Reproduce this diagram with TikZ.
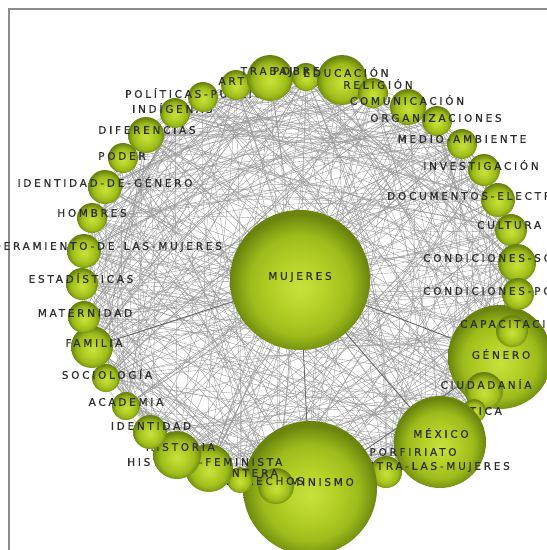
\documentclass[tikz,border=0pt]{standalone}
\usepackage{fontspec}
\newfontfamily\lblfont[LetterSpace=26,FakeBold=0.6]{DejaVu Sans}
\definecolor{sA}{HTML}{C8E23E}
\definecolor{sB}{HTML}{B6D228}
\definecolor{sC}{HTML}{9DBB1B}
\definecolor{sD}{HTML}{7A9612}
\definecolor{sE}{HTML}{6A840E}
\definecolor{txt}{HTML}{2E2E2E}
\definecolor{frame}{HTML}{8C8C8C}
\pgfdeclareradialshading{sphshade}{\pgfpoint{0bp}{-3bp}}{color(0bp)=(sA); color(9bp)=(sB); color(18bp)=(sC); color(23bp)=(sD); color(25bp)=(sE); color(50bp)=(sE)}
\pgfdeclarelayer{paper}
\pgfdeclarelayer{web}
\pgfsetlayers{paper,web,main}
\tikzset{
  sphere/.style={circle, inner sep=0pt, shade, shading=sphshade},
  lbl/.style={font=\lblfont\fontsize{10.5}{12}\selectfont, text=txt, inner sep=0pt},
  edge/.style={black!40, line width=0.35pt},
  strong/.style={black!60, line width=0.8pt}
}
\newcommand\topic[8]{%
  \node[sphere, minimum size={2*#4pt}] (#1) at (#2,#3) {};
  \node[lbl, anchor=#5] (l#1) at (#6,#7) {#8};}
\begin{document}
\begin{tikzpicture}[x=1pt,y=-1pt]
\useasboundingbox (0,0) rectangle (547,550);
\begin{pgfonlayer}{paper}
\fill[white] (0,0) rectangle (547,550);
\end{pgfonlayer}
\clip (0,0) rectangle (547,550);
\draw[frame, line width=1.6pt] (9,552) -- (9,9) -- (549,9);
% central node
\topic{mujeres}{300}{280}{70}{center}{300}{277}{MUJERES}
% ring, drawn clockwise
\topic{t1}{500}{357}{52}{center}{501}{354}{GÉNERO}
\topic{t2}{484}{391}{19}{center}{486}{384}{CIUDADANÍA}
\topic{t3}{474}{411}{12}{east}{502}{410}{ÉTICA}
\node[sphere, minimum size=26pt] (t4) at (424,456) {};
\topic{t5}{440}{442}{46}{center}{441}{433}{MÉXICO}
\node[lbl] (lt4) at (413,452) {PORFIRIATO};
\topic{t6}{386}{472}{16}{east}{510}{467}{VIOLENCIA-CONTRA-LAS-MUJERES}
\topic{t7}{310}{488}{67}{east}{354}{482}{FEMINISMO}
\topic{t8}{276}{486}{18}{east}{304}{481}{DERECHOS}
\topic{t9}{240}{480}{13}{east}{278}{473}{FRONTERA}
\topic{t10}{209}{468}{24}{west}{127}{462}{HISTORIA-FEMINISTA}
\topic{t11}{177}{455}{24}{east}{215}{447}{HISTORIA}
\topic{t12}{150}{432}{17}{center}{151}{426}{IDENTIDAD}
\topic{t13}{126}{406}{14}{center}{126}{402}{ACADEMIA}
\topic{t14}{106}{378}{14}{center}{107}{374}{SOCIOLOGÍA}
\topic{t15}{92}{347}{21}{center}{94}{343}{FAMILIA}
\topic{t16}{84}{317}{16}{center}{85}{313}{MATERNIDAD}
\topic{t17}{82}{284}{16}{center}{81}{278}{ESTADÍSTICAS}
\topic{t18}{84}{251}{17}{east}{222}{247}{EMPODERAMIENTO-DE-LAS-MUJERES}
\topic{t19}{92}{218}{15}{center}{92}{213}{HOMBRES}
\topic{t20}{105}{187}{17}{center}{105}{182}{IDENTIDAD-DE-GÉNERO}
\topic{t21}{123}{158}{15}{center}{122}{156}{PODER}
\topic{t22}{146}{135}{18}{center}{147}{130}{DIFERENCIAS}
\topic{t23}{175}{113}{15}{west}{132}{108}{INDÍGENAS}
\topic{t24}{203}{97}{15}{west}{125}{93}{POLÍTICAS-PÚBLICAS}
\topic{t25}{236}{85}{15}{center}{236}{81}{ARTE}
\topic{t26}{270}{78}{23}{center}{272}{72}{TRABAJO}
\topic{t27}{306}{77}{14}{center}{306}{71}{POBREZA}
\topic{t28}{342}{80}{25}{center}{346}{72}{EDUCACIÓN}
\topic{t29}{373}{93}{15}{center}{378}{84}{RELIGIÓN}
\topic{t30}{408}{107}{18}{center}{407}{100}{COMUNICACIÓN}
\topic{t31}{437}{121}{15}{center}{436}{118}{ORGANIZACIONES}
\topic{t32}{462}{144}{15}{center}{462}{139}{MEDIO-AMBIENTE}
\topic{t33}{484}{170}{16}{center}{481}{165}{INVESTIGACIÓN}
\topic{t34}{498}{200}{17}{west}{387}{195}{DOCUMENTOS-ELECTRÓNICOS}
\topic{t35}{511}{230}{16}{west}{477}{225}{CULTURA}
\topic{t36}{517}{263}{19}{west}{423}{258}{CONDICIONES-SOCIALES}
\topic{t37}{518}{294}{16}{west}{423}{290}{CONDICIONES-POLÍTICAS}
\topic{t38}{512}{331}{16}{west}{460}{323}{CAPACITACIÓN}
% connectors
\begin{pgfonlayer}{web}
\pgfmathsetseed{11}
\foreach \k in {1,...,520}{%
  \pgfmathrandominteger{\a}{1}{38}%
  \pgfmathrandominteger{\b}{1}{38}%
  \pgfmathrandominteger{\c}{-18}{18}%
  \ifnum\a=\b\relax\else
    \draw[edge] (t\a) to[bend left=\c] (t\b);
  \fi
}
\foreach \k in {1,...,38}{\draw[edge] (t\k) -- (mujeres);}
\draw[strong] (mujeres) -- (t5);
\draw[strong] (mujeres) -- (t1);
\draw[strong] (mujeres) -- (t7);
\draw[strong] (mujeres) -- (t15);
\draw[strong] (t1) -- (t7);
\end{pgfonlayer}
\end{tikzpicture}
\end{document}
